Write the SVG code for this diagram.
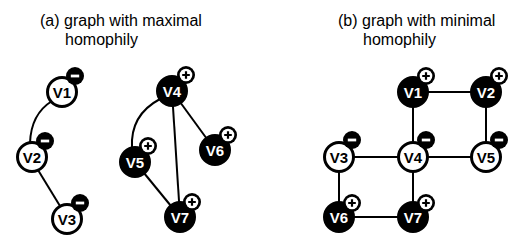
<svg xmlns="http://www.w3.org/2000/svg" width="532" height="252" viewBox="0 0 532 252">
<defs>
<style>
.title{font-family:"Liberation Sans",Arial,sans-serif;font-size:16px;fill:#000}
.edge{stroke:#000;stroke-width:2;fill:none}
.wn{fill:#fff;stroke:#000;stroke-width:3}
.bn{fill:#000;stroke:#000;stroke-width:3}
.wt{font-family:"Liberation Sans",Arial,sans-serif;font-size:15px;font-weight:bold;fill:#000;text-anchor:middle}
.bt{font-family:"Liberation Sans",Arial,sans-serif;font-size:15px;font-weight:bold;fill:#fff;text-anchor:middle}
</style>
<g id="plus">
<circle r="9" fill="#000"/>
<circle r="6.3" fill="#fff"/>
<path d="M-3.8 0H3.8M0 -3.8V3.8" stroke="#000" stroke-width="2.2"/>
</g>
<g id="minus">
<circle r="9" fill="#000"/>
<path d="M-4.2 0H4.2" stroke="#fff" stroke-width="2.8"/>
</g>
</defs>
<rect width="532" height="252" fill="#fff"/>
<text class="title" x="40" y="26">(a) graph with maximal</text>
<text class="title" x="65" y="45">homophily</text>
<text class="title" x="338" y="26">(b) graph with minimal</text>
<text class="title" x="363" y="45">homophily</text>
<g id="connectors">
<path class="edge" d="M52 101 Q31 114 30 143"/>
<line class="edge" x1="38" y1="170" x2="60" y2="206"/>
<path class="edge" d="M160 99 Q130 115 132 148"/>
<line class="edge" x1="172" y1="91" x2="180" y2="217"/>
<line class="edge" x1="172" y1="91" x2="215" y2="150"/>
<line class="edge" x1="135" y1="162" x2="180" y2="217"/>
<line class="edge" x1="413" y1="92" x2="486" y2="92"/>
<line class="edge" x1="413" y1="92" x2="413" y2="157"/>
<line class="edge" x1="486" y1="92" x2="486" y2="157"/>
<line class="edge" x1="339" y1="157" x2="486" y2="157"/>
<line class="edge" x1="339" y1="157" x2="339" y2="217"/>
<line class="edge" x1="413" y1="157" x2="413" y2="217"/>
<line class="edge" x1="339" y1="217" x2="413" y2="217"/>
</g>
<g id="a-v1"><circle class="wn" cx="62" cy="92" r="14.5"/><text class="wt" x="62" y="97.5">V1</text><use href="#minus" x="75" y="76"/></g>
<g id="a-v2"><circle class="wn" cx="32" cy="157" r="14.5"/><text class="wt" x="32" y="162.5">V2</text><use href="#minus" x="45" y="141"/></g>
<g id="a-v3"><circle class="wn" cx="67" cy="219" r="14.5"/><text class="wt" x="67" y="224.5">V3</text><use href="#minus" x="80" y="203"/></g>
<g id="a-v4"><circle class="bn" cx="172" cy="91" r="14.5"/><text class="bt" x="172" y="96.5">V4</text><use href="#plus" x="186" y="75"/></g>
<g id="a-v5"><circle class="bn" cx="135" cy="162" r="14.5"/><text class="bt" x="135" y="167.5">V5</text><use href="#plus" x="148" y="146"/></g>
<g id="a-v6"><circle class="bn" cx="215" cy="150" r="14.5"/><text class="bt" x="215" y="155.5">V6</text><use href="#plus" x="228" y="135"/></g>
<g id="a-v7"><circle class="bn" cx="180" cy="217" r="14.5"/><text class="bt" x="180" y="222.5">V7</text><use href="#plus" x="192" y="202"/></g>
<g id="b-v1"><circle class="bn" cx="413" cy="92" r="14.5"/><text class="bt" x="413" y="97.5">V1</text><use href="#plus" x="426" y="76"/></g>
<g id="b-v2"><circle class="bn" cx="486" cy="92" r="14.5"/><text class="bt" x="486" y="97.5">V2</text><use href="#plus" x="499" y="76"/></g>
<g id="b-v3"><circle class="wn" cx="339" cy="157" r="14.5"/><text class="wt" x="339" y="162.5">V3</text><use href="#minus" x="352" y="140"/></g>
<g id="b-v4"><circle class="wn" cx="413" cy="157" r="14.5"/><text class="wt" x="413" y="162.5">V4</text><use href="#minus" x="426" y="140"/></g>
<g id="b-v5"><circle class="wn" cx="486" cy="157" r="14.5"/><text class="wt" x="486" y="162.5">V5</text><use href="#minus" x="499" y="140"/></g>
<g id="b-v6"><circle class="bn" cx="339" cy="217" r="14.5"/><text class="bt" x="339" y="222.5">V6</text><use href="#plus" x="352" y="203"/></g>
<g id="b-v7"><circle class="bn" cx="413" cy="217" r="14.5"/><text class="bt" x="413" y="222.5">V7</text><use href="#plus" x="426" y="203"/></g>
</svg>
